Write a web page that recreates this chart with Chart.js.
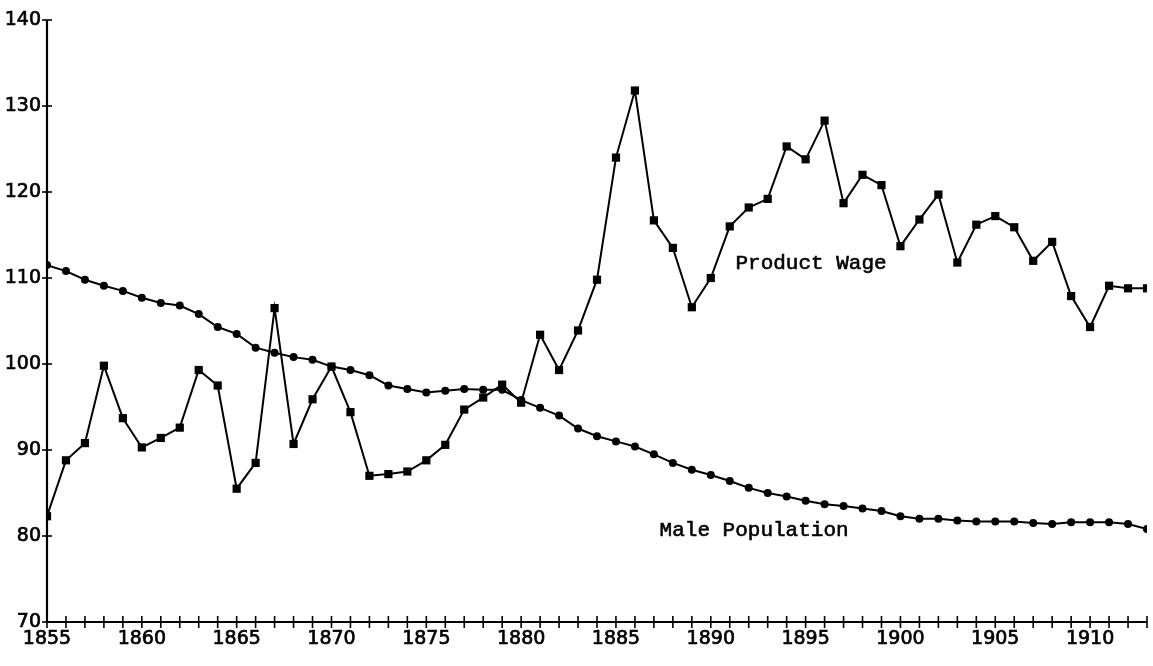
<!DOCTYPE html>
<html><head><meta charset="utf-8">
<script src="https://cdn.jsdelivr.net/npm/chart.js@4/dist/chart.umd.min.js"></script>
<style>html,body{margin:0;padding:0;background:#fff}#w{width:1153px;height:666px}</style>
</head><body><div id="w"><canvas id="c" width="1153" height="666"></canvas></div>
<script>
const years = [];
for (let y = 1855; y <= 1913; y++) years.push(y);
const productWage = [82.3,88.8,90.8,99.8,93.7,90.3,91.4,92.6,99.3,97.5,
  85.5,88.5,106.5,90.7,95.9,99.7,94.4,87.0,87.2,87.5,
  88.8,90.6,94.7,96.1,97.6,95.5,103.4,99.3,103.9,109.8,
  124.0,131.8,116.7,113.5,106.6,110.0,116.0,118.2,119.2,125.3,
  123.8,128.3,118.7,122.0,120.8,113.7,116.8,119.7,111.8,116.2,
  117.2,115.9,112.0,114.2,107.9,104.3,109.1,108.8,108.8];
const malePopulation = [111.5,110.8,109.8,109.1,108.5,107.7,107.1,106.8,105.8,104.3,
  103.5,101.9,101.3,100.8,100.5,99.7,99.3,98.7,97.5,97.1,
  96.7,96.9,97.1,97.0,97.0,95.8,94.9,94.0,92.5,91.6,
  91.0,90.4,89.5,88.5,87.7,87.1,86.4,85.6,85.0,84.6,
  84.1,83.7,83.5,83.2,82.9,82.3,82.0,82.0,81.8,81.7,
  81.7,81.7,81.5,81.4,81.6,81.6,81.6,81.4,80.8];
const yTicks = [70,80,90,100,110,120,130,140];
const xLabelYears = [1855,1860,1865,1870,1875,1880,1885,1890,1895,1900,1905,1910];
const annotations = [
  {text:'Product Wage', x:1891.3, y:111.7},
  {text:'Male Population', x:1887.3, y:80.7}
];

const axisPlugin = {
  id:'axisPlugin',
  afterDraw(chart){
    const ctx = chart.ctx, xs = chart.scales.x, ys = chart.scales.y;
    const a = chart.chartArea;
    ctx.save();
    ctx.strokeStyle = '#000'; ctx.lineWidth = 2.2;
    ctx.beginPath();
    ctx.moveTo(a.left, ys.getPixelForValue(140)); ctx.lineTo(a.left, ys.getPixelForValue(70));
    ctx.lineTo(xs.getPixelForValue(1913), ys.getPixelForValue(70));
    ctx.stroke();
    ctx.lineWidth = 1.6;
    const y0 = ys.getPixelForValue(70);
    years.forEach(yr => {
      const px = xs.getPixelForValue(yr);
      ctx.beginPath(); ctx.moveTo(px, y0-6); ctx.lineTo(px, y0+6); ctx.stroke();
    });
    yTicks.forEach(v => {
      const py = ys.getPixelForValue(v);
      ctx.beginPath(); ctx.moveTo(a.left-5, py); ctx.lineTo(a.left+5, py); ctx.stroke();
    });
    ctx.fillStyle = '#000';
    ctx.lineWidth = 0.7;
    ctx.font = '19px "DejaVu Sans"';
    ctx.textAlign = 'right'; ctx.textBaseline = 'middle';
    yTicks.forEach(v => { const p = ys.getPixelForValue(v); ctx.fillText(String(v), a.left-6, p); ctx.strokeText(String(v), a.left-6, p); });
    ctx.textAlign = 'center'; ctx.textBaseline = 'top';
    xLabelYears.forEach(yr => { const p = xs.getPixelForValue(yr); ctx.fillText(String(yr), p, y0+8); ctx.strokeText(String(yr), p, y0+8); });
    ctx.font = '21px "Liberation Mono"';
    ctx.lineWidth = 0.6;
    ctx.textAlign = 'left'; ctx.textBaseline = 'middle';
    annotations.forEach(an => { const px = xs.getPixelForValue(an.x), py = ys.getPixelForValue(an.y); ctx.fillText(an.text, px, py); ctx.strokeText(an.text, px, py); });
    ctx.restore();
  }
};

new Chart(document.getElementById('c'), {
  type:'line',
  data:{
    datasets:[
      {label:'Product Wage', data: years.map((x,i)=>({x, y:productWage[i]})),
       borderColor:'#000', backgroundColor:'#000', borderWidth:2,
       pointStyle:'rect', pointRadius:5.8, pointBorderWidth:0, tension:0},
      {label:'Male Population', data: years.map((x,i)=>({x, y:malePopulation[i]})),
       borderColor:'#000', backgroundColor:'#000', borderWidth:2,
       pointStyle:'circle', pointRadius:4, pointBorderWidth:0, tension:0}
    ]
  },
  options:{
    responsive:false, animation:false,
    layout:{padding:{top:20, right:6, left:0, bottom:0}},
    plugins:{legend:{display:false}, tooltip:{enabled:false}},
    scales:{
      x:{type:'linear', min:1855, max:1913, display:true,
         grid:{display:false}, border:{display:false},
         ticks:{display:false},
         afterFit(s){ s.height = 44; }},
      y:{type:'linear', min:70, max:140, display:true,
         grid:{display:false}, border:{display:false},
         ticks:{display:false},
         afterFit(s){ s.width = 47; }}
    }
  },
  plugins:[axisPlugin]
});
</script></body></html>
